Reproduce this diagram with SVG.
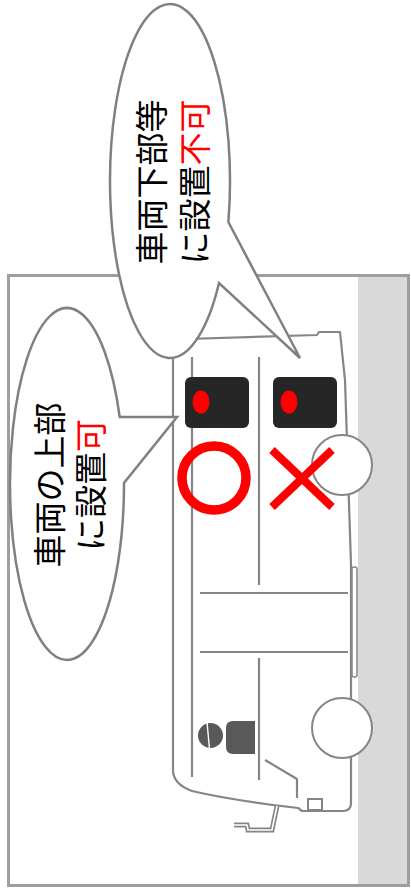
<svg xmlns="http://www.w3.org/2000/svg" width="411" height="893" viewBox="0 0 411 893">
  <style>
    .line { fill: none; stroke: #858585; stroke-width: 2.2; stroke-linejoin: round; }
    .body { fill: #ffffff; stroke: #858585; stroke-width: 2.2; stroke-linejoin: round; }
    .bubble { fill: #ffffff; stroke: #808080; stroke-width: 2.5; stroke-linejoin: miter; }
    .lamp { fill: #262626; }
    .dot { fill: #ff0000; }
    .mark { fill: none; stroke: #ff0000; }
    .label { font-family: "Noto Sans CJK JP", "Noto Sans", sans-serif; font-size: 33px; fill: #000000; text-anchor: middle; dominant-baseline: central; }
    .red { fill: #ff0000; }
  </style>

  <!-- frame and road -->
  <g id="frame">
    <rect x="8.5" y="275.5" width="400" height="610" fill="#ffffff" stroke="#9e9e9e" stroke-width="3"/>
    <rect x="358" y="277" width="49" height="607" fill="#d9d9d9"/>
  </g>

  <!-- vehicle, seen from the side with the road on the right -->
  <g id="vehicle">
    <path class="body" d="M 173 770 L 173 352 Q 173 340 186 339 L 317 335 L 319 332 L 340 332 L 345 380 L 351 565 L 351 803 Q 351 811 343 811 L 302 811 L 298 808 Q 230 800 192 791 Q 173 784 173 770 Z"/>
    <!-- side skirt -->
    <rect x="352" y="567" width="5" height="110" rx="2" fill="#ffffff" stroke="#858585" stroke-width="1.5"/>
    <!-- panel lines -->
    <line class="line" x1="192" y1="357" x2="192" y2="777"/>
    <line class="line" x1="259" y1="357" x2="259" y2="585"/>
    <line class="line" x1="259" y1="658" x2="259" y2="780"/>
    <line class="line" x1="200" y1="593" x2="348" y2="593"/>
    <line class="line" x1="200" y1="652" x2="348" y2="652"/>
    <polyline class="line" points="265,760 297,779 297,798"/>
    <rect x="308" y="799" width="14" height="11" fill="#ffffff" stroke="#858585" stroke-width="2"/>
    <!-- boarding step -->
    <path d="M 277 806 L 272 830 L 248 830 L 247 825 L 234 825" fill="none" stroke="#858585" stroke-width="5" stroke-linejoin="miter"/>
    <path d="M 277 806 L 272 830 L 248 830 L 247 825 L 234 825" fill="none" stroke="#ffffff" stroke-width="1.6" stroke-linejoin="miter"/>
    <!-- lamps -->
    <rect class="lamp" x="185" y="377" width="64" height="51" rx="6"/>
    <rect class="lamp" x="273" y="377" width="64" height="51" rx="6"/>
    <ellipse class="dot" cx="201" cy="402" rx="8.5" ry="11.5"/>
    <ellipse class="dot" cx="289" cy="402" rx="8.5" ry="11.5"/>
    <!-- wheels -->
    <circle cx="342" cy="465" r="30" fill="#ffffff" stroke="#858585" stroke-width="2"/>
    <circle cx="342" cy="728" r="30" fill="#ffffff" stroke="#858585" stroke-width="2"/>
    <!-- driver: cap and head split by a thin gap, then the torso -->
    <g id="driver" fill="#595959">
      <ellipse cx="210.5" cy="735.5" rx="12.5" ry="12.5"/>
      <line x1="207" y1="722" x2="209.5" y2="749" stroke="#ffffff" stroke-width="1.4"/>
      <path d="M 233 721 L 255 721 L 255 754 L 233 754 Q 226 754 226 747 L 226 728 Q 226 721 233 721 Z"/>
    </g>
  </g>

  <!-- mounting marks -->
  <g id="ok-mark">
    <circle class="mark" cx="214" cy="478" r="32" stroke-width="9.5"/>
  </g>
  <g id="ng-mark">
    <line class="mark" x1="272" y1="450" x2="332" y2="507" stroke-width="8"/>
    <line class="mark" x1="332" y1="450" x2="272" y2="507" stroke-width="8"/>
  </g>

  <!-- callout: underside not allowed -->
  <g id="callout-under">
    <path class="bubble" d="M 228.37 222 L 300 358 L 219.03 283 A 60 177 0 1 1 228.37 222 Z"/>
    <text class="label" transform="translate(150,182) rotate(-90)">車両下部等</text>
    <text class="label" transform="translate(193,182) rotate(-90)">に設置<tspan class="red">不可</tspan></text>
  </g>

  <!-- callout: roof allowed -->
  <g id="callout-roof">
    <path class="bubble" d="M 119.71 417 L 177 417 L 124 483 A 57 176 0 1 1 119.71 417 Z"/>
    <text class="label" transform="translate(48,485) rotate(-90)">車両の上部</text>
    <text class="label" transform="translate(89,485) rotate(-90)">に設置<tspan class="red">可</tspan></text>
  </g>
</svg>
